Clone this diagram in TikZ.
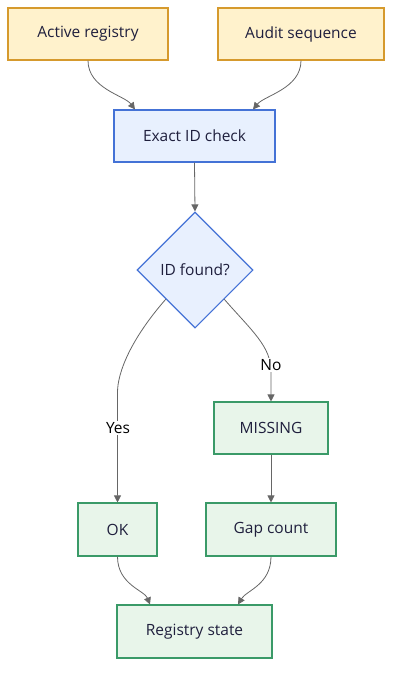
\documentclass[tikz,border=0pt]{standalone}
\usepackage{fontspec}
\setmainfont{Open Sans}
\usetikzlibrary{shapes.geometric,arrows.meta,calc}
\definecolor{ytfill}{HTML}{FFF2CC}
\definecolor{ytdraw}{HTML}{D69A2D}
\definecolor{bfill}{HTML}{E8F0FE}
\definecolor{bdraw}{HTML}{4472D6}
\definecolor{gfill}{HTML}{E8F5EA}
\definecolor{gdraw}{HTML}{3A9A68}
\definecolor{txt}{HTML}{1F1F3D}
\definecolor{edge}{HTML}{666666}
\tikzset{
  box/.style={rectangle, line width=1.1pt, inner sep=0pt, text=txt, font=\fontsize{15.5}{18}\selectfont},
  ybox/.style={box, fill=ytfill, draw=ytdraw},
  bbox/.style={box, fill=bfill, draw=bdraw},
  gbox/.style={box, fill=gfill, draw=gdraw},
  conn/.style={draw=edge, line width=0.8pt, -{Triangle[length=7pt,width=7pt]}},
  elabel/.style={fill=white, inner sep=1.5pt, text=black, font=\fontsize{15.5}{18}\selectfont}
}
\begin{document}
\begin{tikzpicture}[x=1pt,y=-1pt]
\useasboundingbox (0,0) rectangle (400,680);
\node[ybox, minimum width=160pt, minimum height=52pt] (ar) at (88,34) {Active registry};
\node[ybox, minimum width=166pt, minimum height=52pt] (as) at (301,34) {Audit sequence};
\node[bbox, minimum width=161pt, minimum height=52pt] (ec) at (194.5,136) {Exact ID check};
\node[bbox, diamond, minimum width=116pt, minimum height=116pt, aspect=1] (df) at (195,270) {ID found?};
\node[gbox, minimum width=114pt, minimum height=52pt] (mi) at (271,428) {MISSING};
\node[gbox, minimum width=79pt, minimum height=53pt] (ok) at (117.5,529.5) {OK};
\node[gbox, minimum width=130pt, minimum height=53pt] (gc) at (271,529.5) {Gap count};
\node[gbox, minimum width=155pt, minimum height=53pt] (rs) at (194.5,631.5) {Registry state};

\draw[conn] (ar.south) .. controls ($(ar.south)+(0,28)$) and ($(ec.north)+(-70,-14)$) .. ($(ec.north)+(-59.5,0)$);
\draw[conn] (as.south) .. controls ($(as.south)+(0,28)$) and ($(ec.north)+(70,-14)$) .. ($(ec.north)+(58.5,0)$);
\draw[conn] (ec.south) -- (df.north);
\draw[conn] (df.south west) .. controls ($(df.south west)+(-35,40)$) and ($(ok.north)+(0,-130)$) .. ($(ok.north)+(0,-110)$) -- (ok.north);
\node[elabel] (yl) at (118,428) {Yes};
\draw[conn] (df.south east) .. controls ($(df.south east)+(28,32)$) and ($(mi.north)+(0,-55)$) .. ($(mi.north)+(0,-30)$) -- (mi.north);
\node[elabel] (nl) at (271,365) {No};
\draw[conn] (mi.south) -- (gc.north);
\draw[conn] (ok.south) .. controls ($(ok.south)+(0,28)$) and ($(rs.north)+(-50,-14)$) .. ($(rs.north)+(-44.5,0)$);
\draw[conn] (gc.south) .. controls ($(gc.south)+(0,28)$) and ($(rs.north)+(52,-14)$) .. ($(rs.north)+(43.5,0)$);
\end{tikzpicture}
\end{document}
